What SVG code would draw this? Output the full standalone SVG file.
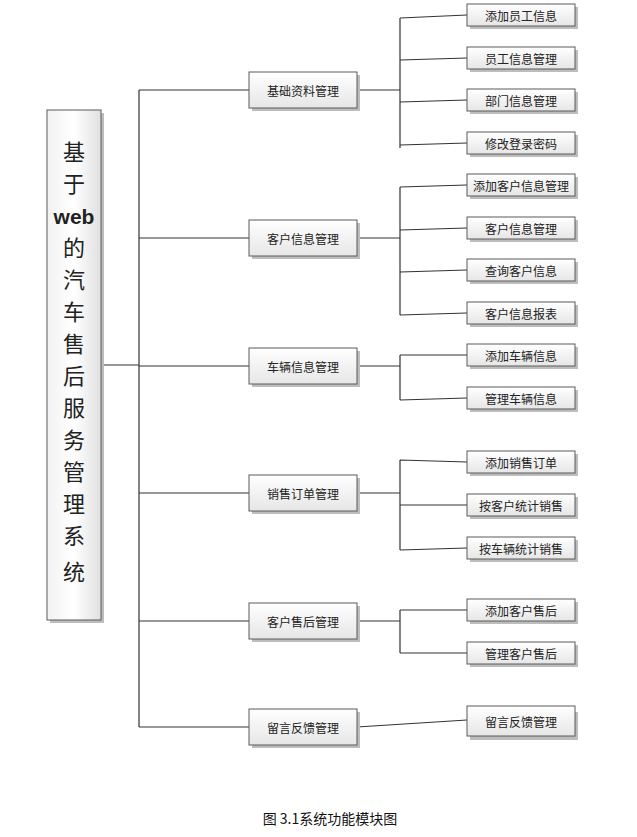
<svg xmlns="http://www.w3.org/2000/svg" width="637" height="837" viewBox="0 0 637 837">
<defs>
<linearGradient id="g" x1="0" y1="0" x2="0" y2="1"><stop offset="0" stop-color="#ffffff"/><stop offset="1" stop-color="#e6e6e6"/></linearGradient>
<linearGradient id="gr" x1="0" y1="0" x2="1" y2="0"><stop offset="0" stop-color="#f2f2f2"/><stop offset="0.5" stop-color="#ffffff"/><stop offset="1" stop-color="#e0e0e0"/></linearGradient>
<style>
.b{fill:url(#g);stroke:#5a5a5a;stroke-width:1}
.s{fill:#bdbdbd}
.t{font-family:"Noto Sans CJK SC","Liberation Serif",serif;font-size:12px;fill:#222;text-anchor:middle;dominant-baseline:central}
.c{stroke:#333;stroke-width:1.2;fill:none}
</style>
</defs>
<rect width="637" height="837" fill="#fff"/>
<g id="connectors" class="c">
<path d="M101 365H139M139 90V727M139 90H249M139 238H249M139 366H249M139 493H249M139 621H249M139 727H249"/>
<path d="M357 90H400M400 18V148M400 18L467 15M400 60L467 58M400 102L467 100M400 145L467 143"/>
<path d="M357 238H400M400 187V315M400 187L467 185M400 230L467 228M400 272L467 270M400 315L467 313"/>
<path d="M357 366H400M400 355V400M400 355L467 355M400 400L467 398"/>
<path d="M357 493H400M400 460V550M400 460L467 462M400 505L467 505M400 550L467 548"/>
<path d="M357 621H400M400 610V653M400 610L467 610M400 653L467 653"/>
<path d="M357 727L467 720"/>
</g>
<g id="root"><rect x="50" y="113" width="54" height="510" class="s"/><rect x="47" y="110" width="54" height="510" fill="url(#gr)" stroke="#5a5a5a"/>
<text font-family="'Noto Sans CJK SC',sans-serif" font-size="22" fill="#222" text-anchor="middle"><tspan x="74" y="160">基</tspan><tspan x="74" y="192">于</tspan><tspan x="74" y="224" font-family="'Liberation Sans',sans-serif" font-weight="bold" font-size="21">web</tspan><tspan x="74" y="256">的</tspan><tspan x="74" y="288">汽</tspan><tspan x="74" y="320">车</tspan><tspan x="74" y="352">售</tspan><tspan x="74" y="384">后</tspan><tspan x="74" y="416">服</tspan><tspan x="74" y="448">务</tspan><tspan x="74" y="480">管</tspan><tspan x="74" y="512">理</tspan><tspan x="74" y="544">系</tspan><tspan x="74" y="580">统</tspan></text></g>
<g id="n1"><rect x="252" y="75" width="108" height="36" class="s"/><rect x="249" y="72" width="108" height="36" class="b"/><text x="303" y="90" class="t">基础资料管理</text></g>
<g id="n2"><rect x="252" y="223" width="108" height="36" class="s"/><rect x="249" y="220" width="108" height="36" class="b"/><text x="303" y="238" class="t">客户信息管理</text></g>
<g id="n3"><rect x="252" y="351" width="108" height="36" class="s"/><rect x="249" y="348" width="108" height="36" class="b"/><text x="303" y="366" class="t">车辆信息管理</text></g>
<g id="n4"><rect x="252" y="478" width="108" height="36" class="s"/><rect x="249" y="475" width="108" height="36" class="b"/><text x="303" y="493" class="t">销售订单管理</text></g>
<g id="n5"><rect x="252" y="606" width="108" height="36" class="s"/><rect x="249" y="603" width="108" height="36" class="b"/><text x="303" y="621" class="t">客户售后管理</text></g>
<g id="n6"><rect x="252" y="712" width="108" height="36" class="s"/><rect x="249" y="709" width="108" height="36" class="b"/><text x="303" y="727" class="t">留言反馈管理</text></g>
<g id="l1"><rect x="470" y="7" width="108" height="22" class="s"/><rect x="467" y="4" width="108" height="22" class="b"/><text x="521" y="15" class="t">添加员工信息</text></g>
<g id="l2"><rect x="470" y="50" width="108" height="22" class="s"/><rect x="467" y="47" width="108" height="22" class="b"/><text x="521" y="58" class="t">员工信息管理</text></g>
<g id="l3"><rect x="470" y="92" width="108" height="22" class="s"/><rect x="467" y="89" width="108" height="22" class="b"/><text x="521" y="100" class="t">部门信息管理</text></g>
<g id="l4"><rect x="470" y="135" width="108" height="22" class="s"/><rect x="467" y="132" width="108" height="22" class="b"/><text x="521" y="143" class="t">修改登录密码</text></g>
<g id="l5"><rect x="470" y="177" width="108" height="22" class="s"/><rect x="467" y="174" width="108" height="22" class="b"/><text x="521" y="185" class="t">添加客户信息管理</text></g>
<g id="l6"><rect x="470" y="220" width="108" height="22" class="s"/><rect x="467" y="217" width="108" height="22" class="b"/><text x="521" y="228" class="t">客户信息管理</text></g>
<g id="l7"><rect x="470" y="262" width="108" height="22" class="s"/><rect x="467" y="259" width="108" height="22" class="b"/><text x="521" y="270" class="t">查询客户信息</text></g>
<g id="l8"><rect x="470" y="305" width="108" height="22" class="s"/><rect x="467" y="302" width="108" height="22" class="b"/><text x="521" y="313" class="t">客户信息报表</text></g>
<g id="l9"><rect x="470" y="347" width="108" height="22" class="s"/><rect x="467" y="344" width="108" height="22" class="b"/><text x="521" y="355" class="t">添加车辆信息</text></g>
<g id="l10"><rect x="470" y="390" width="108" height="22" class="s"/><rect x="467" y="387" width="108" height="22" class="b"/><text x="521" y="398" class="t">管理车辆信息</text></g>
<g id="l11"><rect x="470" y="454" width="108" height="22" class="s"/><rect x="467" y="451" width="108" height="22" class="b"/><text x="521" y="462" class="t">添加销售订单</text></g>
<g id="l12"><rect x="470" y="497" width="108" height="22" class="s"/><rect x="467" y="494" width="108" height="22" class="b"/><text x="521" y="505" class="t">按客户统计销售</text></g>
<g id="l13"><rect x="470" y="540" width="108" height="22" class="s"/><rect x="467" y="537" width="108" height="22" class="b"/><text x="521" y="548" class="t">按车辆统计销售</text></g>
<g id="l14"><rect x="470" y="602" width="108" height="22" class="s"/><rect x="467" y="599" width="108" height="22" class="b"/><text x="521" y="610" class="t">添加客户售后</text></g>
<g id="l15"><rect x="470" y="645" width="108" height="22" class="s"/><rect x="467" y="642" width="108" height="22" class="b"/><text x="521" y="653" class="t">管理客户售后</text></g>
<g id="l16"><rect x="470" y="712" width="108" height="28" class="s"/><rect x="467" y="706" width="108" height="30" class="b"/><text x="521" y="721" class="t">留言反馈管理</text></g>
<text x="330" y="824" font-family="'Noto Sans CJK SC','Liberation Serif',serif" font-size="14" fill="#111" text-anchor="middle">图 3.1系统功能模块图</text>
</svg>
